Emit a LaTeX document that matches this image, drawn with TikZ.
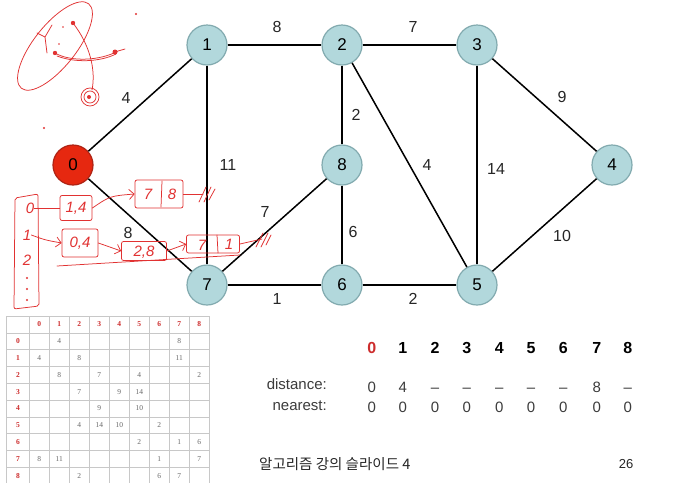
\documentclass[tikz,border=0pt]{standalone}
\usepackage{fontspec}
\setmainfont{Liberation Sans}
\newfontfamily\krfont{Noto Sans CJK KR}
\newfontfamily\tabfont{Liberation Serif}
\usetikzlibrary{arrows.meta}
\definecolor{nodefill}{RGB}{178,216,220}
\definecolor{nodeline}{RGB}{130,170,175}
\definecolor{srcfill}{RGB}{230,40,16}
\definecolor{srcline}{RGB}{175,35,20}
\definecolor{hand}{RGB}{225,50,50}
\definecolor{hdrred}{RGB}{205,45,45}
\definecolor{gridgray}{RGB}{200,200,200}
\definecolor{valgray}{RGB}{105,105,105}
\definecolor{rowtext}{RGB}{60,60,60}
\begin{document}
\begin{tikzpicture}[x=1pt,y=-1pt,
  vertex/.style={circle,minimum size=40pt,inner sep=0pt,fill=nodefill,draw=nodeline,line width=1.2pt,font=\fontsize{17}{17}\selectfont},
  srcvertex/.style={vertex,fill=srcfill,draw=srcline},
  graphedge/.style={line width=1.5pt,black},
  wlabel/.style={font=\fontsize{16}{16}\selectfont,text=black!85,inner sep=0pt},
  hdr/.style={font=\fontsize{16}{16}\selectfont\bfseries,inner sep=0pt},
  rowval/.style={font=\fontsize{15}{15}\selectfont,text=rowtext,inner sep=0pt,text height=10.8pt,text depth=0pt},
  handline/.style={hand,line width=0.75pt,line cap=round,line join=round},
  handtext/.style={text=hand,font=\fontsize{15}{15}\selectfont\itshape,inner sep=0pt},
  handbox/.style={handline,rounded corners=2pt},
  mhdr/.style={text=hdrred,font=\tabfont\fontsize{7.5}{7.5}\selectfont\bfseries,inner sep=0pt},
  mval/.style={text=valgray,font=\tabfont\fontsize{7.5}{7.5}\selectfont,inner sep=0pt},
  gridline/.style={gridgray,line width=0.6pt}]
\fill[white] (0,0) rectangle (675,483);
\useasboundingbox (0,0) rectangle (675,483);

% ---------- graph ----------
\node[srcvertex] (v0) at (73,165) {0};
\node[vertex] (v1) at (207,45) {1};
\node[vertex] (v2) at (342,45) {2};
\node[vertex] (v3) at (477,45) {3};
\node[vertex] (v8) at (342,165) {8};
\node[vertex] (v4) at (612,165) {4};
\node[vertex] (v7) at (207,285) {7};
\node[vertex] (v6) at (342,285) {6};
\node[vertex] (v5) at (477,285) {5};

\draw[graphedge] (v0) -- (v1);
\draw[graphedge] (v0) -- (v7);
\draw[graphedge] (v1) -- (v2);
\draw[graphedge] (v1) -- (v7);
\draw[graphedge] (v2) -- (v3);
\draw[graphedge] (v2) -- (v8);
\draw[graphedge] (v2) -- (v5);
\draw[graphedge] (v3) -- (v4);
\draw[graphedge] (v3) -- (v5);
\draw[graphedge] (v8) -- (v7);
\draw[graphedge] (v8) -- (v6);
\draw[graphedge] (v4) -- (v5);
\draw[graphedge] (v7) -- (v6);
\draw[graphedge] (v6) -- (v5);

\node[wlabel] (w01) at (126,98) {4};
\node[wlabel] (w07) at (128,233) {8};
\node[wlabel] (w12) at (277,27) {8};
\node[wlabel] (w23) at (413,27) {7};
\node[wlabel] (w34) at (562,97) {9};
\node[wlabel] (w28) at (356,115) {2};
\node[wlabel] (w17) at (228,165) {11};
\node[wlabel] (w25) at (427,165) {4};
\node[wlabel] (w35) at (496,169) {14};
\node[wlabel] (w87) at (265,212) {7};
\node[wlabel] (w86) at (353,232) {6};
\node[wlabel] (w45) at (562,236) {10};
\node[wlabel] (w76) at (277,299) {1};
\node[wlabel] (w65) at (413,299) {2};

% ---------- handwritten scribble (top left) ----------
\draw[handline,shift={(55,46)},rotate=51.5] (0,0) ellipse [x radius=54pt,y radius=21pt];
\draw[handline] (52,25) -- (45,37) -- (37,33);
\draw[handline] (45,37) -- (47,53);
\fill[hand] (73,23) circle (2.2pt);
\fill[hand] (55,53) circle (2.2pt);
\fill[hand] (115,52) circle (2.5pt);
\fill[hand] (63,27) circle (0.8pt);
\fill[hand] (59,44) circle (0.8pt);
\fill[hand] (136,14) circle (1.2pt);
\fill[hand] (44,128) circle (1.2pt);
\draw[handline] (55,53) .. controls (70,62) and (100,61) .. (118,51) -- (125,49);
\draw[handline] (57,56) .. controls (75,63) and (100,62) .. (116,54);
\draw[handline] (73,23) .. controls (90,45) and (96,70) .. (92,90);
\draw[handline] (90,97) circle (9pt);
\draw[handline] (90,97) circle (6pt);
\fill[hand] (89,97) circle (2pt);

% ---------- handwritten adjacency list ----------
\draw[handbox] (15,198) -- (38,194) -- (39,306) -- (14,309) -- cycle;
\node[handtext] (a0) at (30,208) {0};
\node[handtext] (a1) at (27,235) {1};
\node[handtext] (a2) at (27,260) {2};
\fill[hand] (27,278) circle (1.1pt);
\fill[hand] (27,289) circle (1.1pt);
\fill[hand] (27,300) circle (1.1pt);

\node[handbox,draw,minimum width=32pt,minimum height=25pt,inner sep=0pt] (b14) at (76,208) {};
\node[handtext] (t14) at (76,208) {1,4};
\draw[handline] (a0) -- (b14);

\node[handbox,draw,minimum width=48pt,minimum height=28pt,inner sep=0pt] (b78) at (159,194) {};
\draw[handline] (162,181) -- (161,207);
\node[handtext] (t78a) at (148,194) {7};
\node[handtext] (t78b) at (172,194) {8};
\draw[handline,-{Straight Barb[length=5pt]}] (b14.east) .. controls (110,196) .. (b78.west);
\coordinate (e78) at (203,194);
\draw[handline] (b78.east) -- (e78);
\draw[handline] (199,202) -- (206,187);
\draw[handline] (204,202) -- (211,187);
\draw[handline] (209,200) -- (215,189);

\node[handbox,draw,minimum width=36pt,minimum height=28pt,inner sep=0pt] (b04) at (80,243) {};
\node[handtext] (t04) at (80,243) {0,4};
\draw[handline,-{Straight Barb[length=5pt]}] (a1.east) .. controls (45,240) .. (b04.west);

\node[handbox,draw,minimum width=45pt,minimum height=19pt,inner sep=0pt] (b28) at (144,251) {};
\node[handtext] (t28) at (144,252) {2,8};
\draw[handline,-{Straight Barb[length=5pt]}] (b04.east) -- (b28.west);

\node[handbox,draw,minimum width=53pt,minimum height=18pt,inner sep=0pt] (b71) at (213,244) {};
\draw[handline] (217,235) -- (218,253);
\node[handtext] (t71a) at (202,245) {7};
\node[handtext] (t71b) at (229,244) {1};
\draw[handline,-{Straight Barb[length=5pt]}] (b28.east) -- (b71.west);
\coordinate (e71) at (262,239);
\draw[handline] (b71.east) -- (e71);
\draw[handline] (256,247) -- (263,233);
\draw[handline] (261,247) -- (268,233);
\draw[handline] (266,245) -- (271,235);
\draw[handline] (57,266) -- (240,255);

% ---------- adjacency matrix ----------
\foreach \k in {0,...,10} {
  \draw[gridline] (6.7,{316+16.8*\k}) -- (209.3,{316+16.8*\k});
}
\draw[gridline] (6.7,316) -- (6.7,483);
\foreach \k in {0,...,9} {
  \draw[gridline] ({29.3+20*\k},316) -- ({29.3+20*\k},483);
}
\foreach \c in {0,...,8} {
  \node[mhdr] (mc\c) at ({39.3+20*\c},324.4) {\c};
  \node[mhdr] (mr\c) at (18,{324.4+16.8*(\c+1)}) {\c};
}
\foreach \r/\c/\v in {0/1/4,0/7/8,
  1/0/4,1/2/8,1/7/11,
  2/1/8,2/3/7,2/5/4,2/8/2,
  3/2/7,3/4/9,3/5/14,
  4/3/9,4/5/10,
  5/2/4,5/3/14,5/4/10,5/6/2,
  6/5/2,6/7/1,6/8/6,
  7/0/8,7/1/11,7/6/1,7/8/7,
  8/2/2,8/6/6,8/7/7} {
  \node[mval] (m\r-\c) at ({39.3+20*\c},{324.4+16.8*(\r+1)}) {\v};
}

% ---------- distance / nearest table ----------
\node[hdr,text=hdrred] (h0) at (371.7,348.3) {0};
\foreach \i/\xx in {1/402.7,2/435,3/466.7,4/499.3,5/531,6/563.3,7/596.7,8/627.7} {
  \node[hdr] (h\i) at (\xx,348.3) {\i};
}
\node[rowval,anchor=east] (dlab) at (327,384) {distance:};
\node[rowval,anchor=east] (nlab) at (327,405) {nearest:};
\foreach \i/\xx/\v in {0/371.7/0,1/402.7/4,2/435/–,3/466.7/–,4/499.3/–,5/531/–,6/563.3/–,7/596.7/8,8/627.7/–} {
  \node[rowval] (d\i) at (\xx,386.7) {\v};
  \node[rowval] (n\i) at (\xx,407.3) {0};
}

% ---------- footer ----------
\node[anchor=west,inner sep=0pt,font=\krfont\fontsize{14.5}{14.5}\selectfont,text=black!85] (footer) at (259,464.3) {알고리즘 강의 슬라이드 4};
\node[inner sep=0pt,font=\fontsize{13}{13}\selectfont,text=black!85] (pageno) at (626,464.3) {26};
\end{tikzpicture}
\end{document}
